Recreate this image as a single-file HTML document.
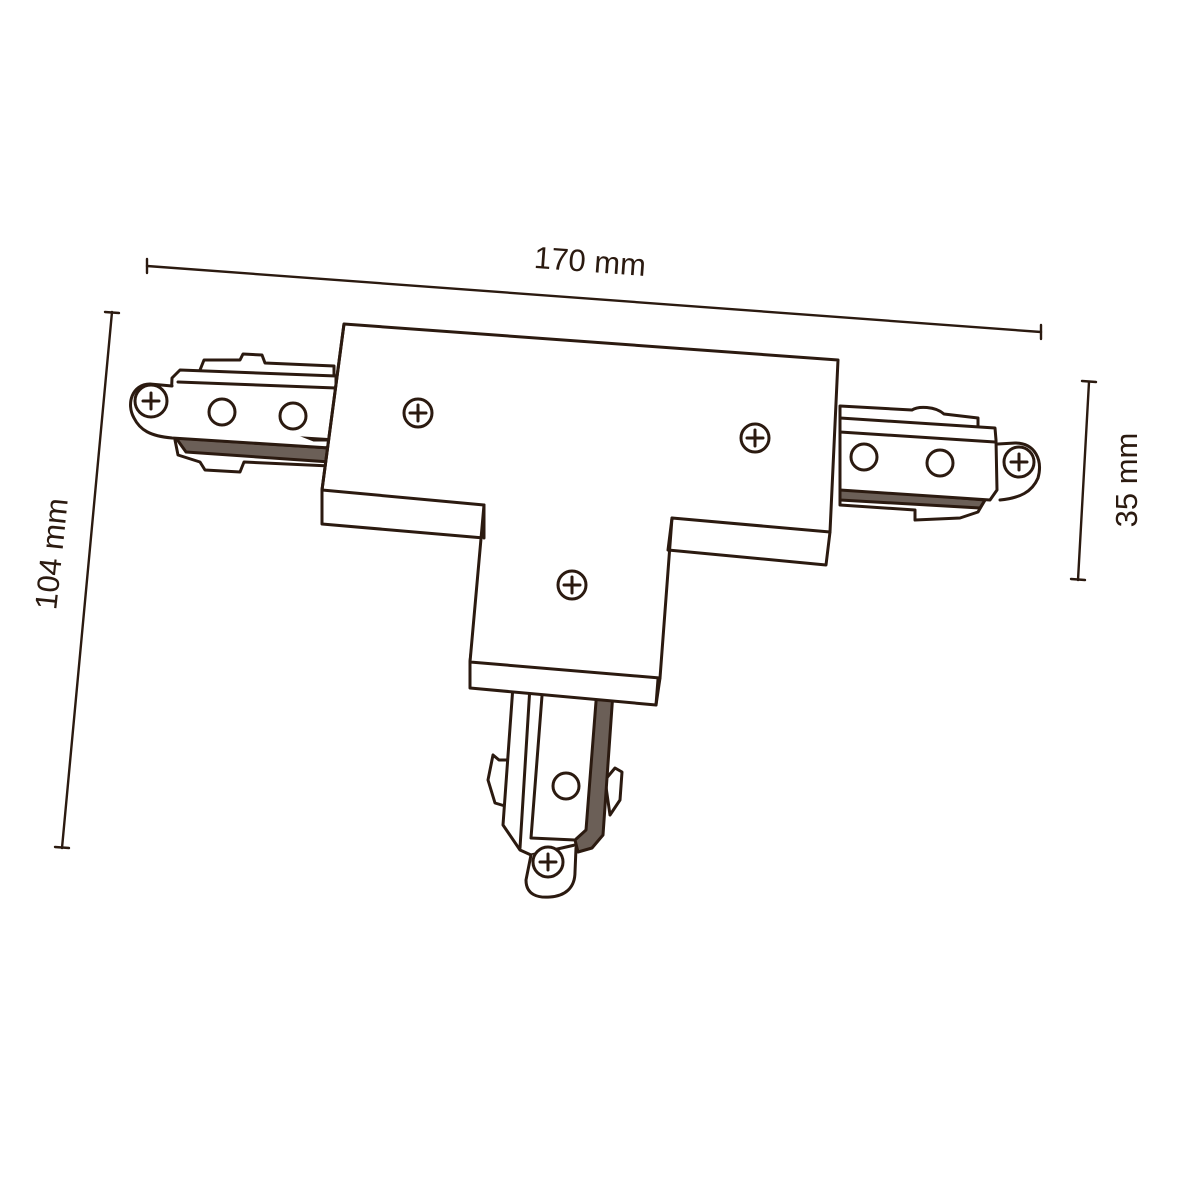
<!DOCTYPE html>
<html><head><style>body{margin:0;background:#fff}svg{display:block}</style></head><body>
<svg width="1200" height="1200" viewBox="0 0 1200 1200" xmlns="http://www.w3.org/2000/svg" fill="none" stroke="#2b1a10" stroke-width="3" stroke-linejoin="round" stroke-linecap="round">
<line x1="147" y1="266" x2="1041" y2="332" stroke-width="2.4"/>
<line x1="147" y1="259" x2="147" y2="273" stroke-width="2.4"/><line x1="1041" y1="325" x2="1041" y2="339" stroke-width="2.4"/>
<line x1="112" y1="312" x2="62" y2="848" stroke-width="2.4"/>
<line x1="105" y1="312" x2="119" y2="313" stroke-width="2.4"/><line x1="55" y1="847" x2="69" y2="848" stroke-width="2.4"/>
<line x1="1089" y1="382" x2="1078" y2="580" stroke-width="2.4"/>
<line x1="1082" y1="381" x2="1096" y2="382" stroke-width="2.4"/><line x1="1071" y1="579" x2="1085" y2="580" stroke-width="2.4"/>
<g fill="#2b1a10" stroke="none" font-family="Liberation Sans, sans-serif" font-size="31">
<text x="590" y="272" text-anchor="middle" transform="rotate(4.2 590 262)">170 mm</text>
<text x="0" y="0" text-anchor="middle" transform="translate(62 555) rotate(-84)">104 mm</text>
<text x="0" y="0" text-anchor="middle" transform="translate(1137 480) rotate(-90)">35 mm</text>
</g>
<g fill="#fff">
<path d="M200 370 L204 360 L240 360 L243 354 L262 355 L265 363 L334 366 L334 380 L200 376 Z"/>
<path d="M175 440 L178 455 L200 462 L205 470 L240 472 L244 462 L330 466 L330 440 Z"/>
<path d="M176 438 L330 448 L330 462 L186 452 Z" fill="#6b5f57"/>
<path d="M172 378 L180 370 L336 376 L336 440 L170 430 Z"/>
<path d="M178 382 L336 388"/>
<path d="M172 386 L150 384 C132 384 126 404 134 418 C140 430 150 436 172 438 L330 448"/>
<circle cx="151" cy="401" r="16"/>
<path d="M143 401h16M151 393v16"/>
<circle cx="222" cy="412" r="13"/><circle cx="293" cy="416" r="13"/>
</g>
<g fill="#fff">
<path d="M840 406 L912 410 C918 406 935 406 944 414 L978 418 L978 430 L840 424 Z"/>
<path d="M840 488 L985 500 L978 512 L960 518 L915 520 L915 510 L840 505 Z"/>
<path d="M840 488 L985 500 L980 508 L840 500 Z" fill="#6b5f57"/>
<path d="M840 418 L995 428 L996 440 L997 490 L990 500 L840 490 Z"/>
<path d="M840 432 L995 442"/>
<path d="M998 444 L1015 443 C1035 443 1043 460 1038 478 C1032 492 1020 498 1000 500"/>
<circle cx="1019" cy="462" r="15"/>
<path d="M1011 462h16M1019 454v16"/>
<circle cx="864" cy="457" r="13"/><circle cx="940" cy="463" r="13"/>
</g>
<g fill="#fff">
<path d="M499 760 L493 755 L488 780 L495 803 L505 806 L510 760 Z"/>
<path d="M615 768 L622 772 L620 800 L610 815 L605 780 Z"/>
<path d="M514 672 L503 825 L520 850 L531 855 L575 845 L582 840 L598 828 L613 680 Z"/>
<path d="M598 676 L614 678 L603 835 L592 848 L578 852 L575 840 L586 830 Z" fill="#6b5f57"/>
<path d="M531 670 L520 848"/><path d="M544 670 L531 838 L575 840"/>
<path d="M531 855 L526 880 C526 895 538 898 550 897 C565 896 575 888 575 872 L576 848"/>
<circle cx="548" cy="862" r="15"/>
<path d="M540 862h16M548 854v16"/>
<circle cx="566" cy="786" r="13"/>
</g>
<g fill="#fff">
<path d="M344 324 L838 360 L830 532 L826 565 L668 550 L656 705 L470 688 L470 662 L484 538 L322 524 L322 490 Z"/>
<path d="M322 490 L484 505 L470 662 L660 678 L672 518 L830 532"/>
<path d="M484 505 L484 538"/><path d="M672 518 L668 550"/><path d="M660 678 L656 705"/>
<path d="M344 324 L322 490"/>
<circle cx="418" cy="413" r="14"/><path d="M410 413h16M418 405v16"/>
<circle cx="755" cy="438" r="14"/><path d="M747 438h16M755 430v16"/>
<circle cx="572" cy="585" r="14"/><path d="M564 585h16M572 577v16"/>
</g>
</svg>
</body></html>
